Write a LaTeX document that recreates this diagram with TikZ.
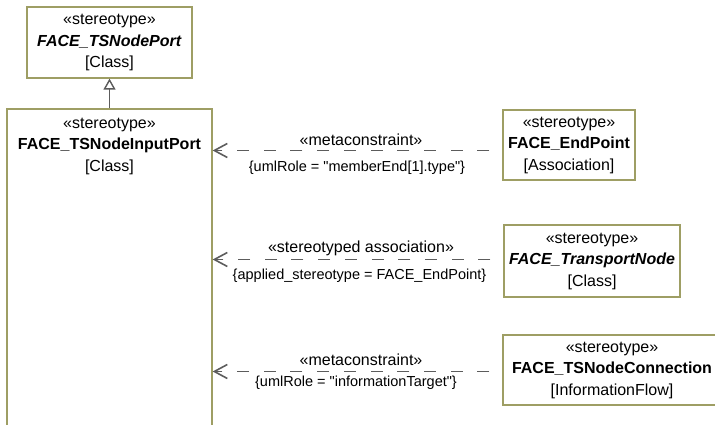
\documentclass[tikz,border=0pt]{standalone}
\usepackage{fontspec}
\setmainfont{Liberation Sans}
\usetikzlibrary{arrows.meta}
\definecolor{boxc}{RGB}{158,158,100}
\definecolor{linec}{RGB}{92,92,92}
\tikzset{
 umlbox/.style={draw=boxc, line width=1.3pt, fill=white, rectangle, inner sep=0pt, align=center, font=\fontsize{16}{21.5}\selectfont},
 boxtext/.style={inner sep=0pt, align=center, font=\fontsize{16}{21.5}\selectfont},
 dep/.style={draw=linec, line width=1.6pt, dash pattern=on 12pt off 14.7pt, -{Straight Barb[length=13pt,width=14pt]}, shorten <=13pt},
 gen/.style={draw=linec, line width=1.4pt, -{Triangle[open,length=11pt,width=12pt,fill=white]}},
 stlbl/.style={font=\fontsize{16}{19}\selectfont, inner sep=0pt},
 cnlbl/.style={font=\fontsize{14.5}{17}\selectfont, inner sep=0pt},
}
\begin{document}
\begin{tikzpicture}[x=1pt,y=-1pt]
\clip (0,0) rectangle (715,425);
\fill[white] (0,0) rectangle (715,425);
\node[umlbox, minimum width=165pt, minimum height=71pt] (port) at (109.5,42.5)
  {«stereotype»\\\textbf{\textit{FACE\_TSNodePort}}\\{[Class]}};
\node[umlbox, minimum width=205pt, minimum height=341pt] (inport) at (109.5,279.5) {};
\node[boxtext] (inporttext) at (109.5,146)
  {«stereotype»\\\textbf{FACE\_TSNodeInputPort}\\{[Class]}};
\node[umlbox, minimum width=132pt, minimum height=70pt] (ep) at (569,145)
  {«stereotype»\\\textbf{FACE\_EndPoint}\\{[Association]}};
\node[umlbox, minimum width=176pt, minimum height=72pt] (tn) at (592,261)
  {«stereotype»\\\textbf{\textit{FACE\_TransportNode}}\\{[Class]}};
\node[umlbox, minimum width=218pt, minimum height=70pt] (tc) at (612,370)
  {«stereotype»\\\textbf{FACE\_TSNodeConnection}\\{[InformationFlow]}};
\draw[gen] (inport.north) -- (port.south);
\path ([yshift=-5.5pt]ep.west) coordinate (a1);
\path ([yshift=1.5pt]tn.west) coordinate (a2);
\path ([yshift=-1.5pt]tc.west) coordinate (a3);
\draw[dep] (a1) -- (a1 -| inport.east);
\draw[dep] (a2) -- (a2 -| inport.east);
\draw[dep] (a3) -- (a3 -| inport.east);
\node[stlbl] (l1) at (361,140) {«metaconstraint»};
\node[cnlbl] (c1) at (357,168) {\{umlRole = \textquotedbl memberEnd[1].type\textquotedbl\}};
\node[stlbl] (l2) at (361,248) {«stereotyped association»};
\node[cnlbl] (c2) at (359.5,276) {\{applied\_stereotype = FACE\_EndPoint\}};
\node[stlbl] (l3) at (361,360) {«metaconstraint»};
\node[cnlbl] (c3) at (356,383) {\{umlRole = \textquotedbl informationTarget\textquotedbl\}};
\end{tikzpicture}
\end{document}
